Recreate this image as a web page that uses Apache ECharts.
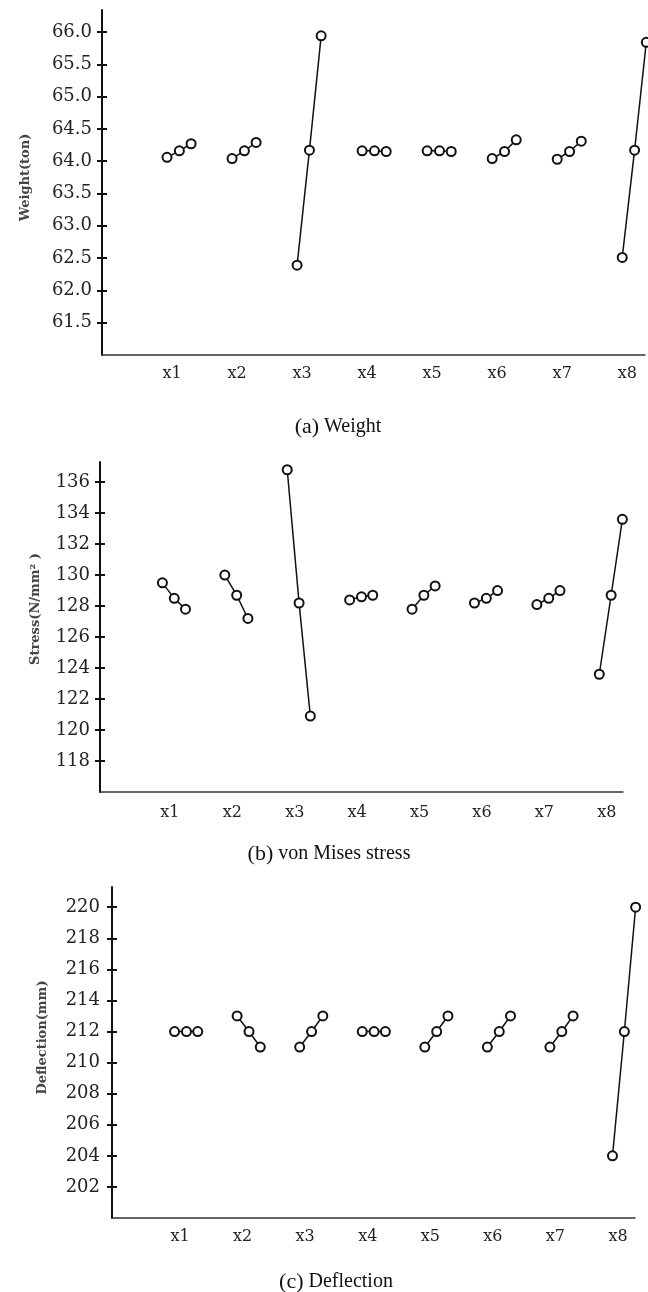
<!DOCTYPE html>
<html>
<head>
<meta charset="utf-8">
<style>
  html, body { margin: 0; padding: 0; background: #fff; }
  #main { width: 648px; height: 1292px; }
</style>
<script src="https://cdn.jsdelivr.net/npm/echarts@6/dist/echarts.min.js"></script>
</head>
<body>
<div id="main"></div>
<script>
// factors and the three levels of each factor
const factors = ['x1', 'x2', 'x3', 'x4', 'x5', 'x6', 'x7', 'x8']
const weight = [
  [64.06, 64.16, 64.27], [64.04, 64.16, 64.29], [62.39, 64.17, 65.94], [64.16, 64.16, 64.15],
  [64.16, 64.16, 64.15], [64.04, 64.15, 64.33], [64.03, 64.15, 64.31], [62.51, 64.17, 65.84]
]
const stress = [
  [129.5, 128.5, 127.8], [130.0, 128.7, 127.2], [136.8, 128.2, 120.9], [128.4, 128.6, 128.7],
  [127.8, 128.7, 129.3], [128.2, 128.5, 129.0], [128.1, 128.5, 129.0], [123.6, 128.7, 133.6]
]
const deflection = [
  [212, 212, 212], [213, 212, 211], [211, 212, 213], [212, 212, 212],
  [211, 212, 213], [211, 212, 213], [211, 212, 213], [204, 212, 220]
]
const weightTicks = [61.5, 62.0, 62.5, 63.0, 63.5, 64.0, 64.5, 65.0, 65.5, 66.0]
const stressTicks = [118, 120, 122, 124, 126, 128, 130, 132, 134, 136]
const deflectionTicks = [202, 204, 206, 208, 210, 212, 214, 216, 218, 220]
const levelShift = [0, 0.19, 0.37]

const panels = [
  { name: 'Weight(ton)', data: weight, ticks: weightTicks, digits: 1,
    grid: { left: 102, top: 10, width: 543, height: 345 },
    yMin: 61, yMax: 66.34, xMax: 8.35, labelPad: 10, labelMargin: 10, xMargin: 11,
    nameGap: 70, namePad: 10,
    caption: ['a', 'Weight'], capX: 333, capY: 424 },
  { name: 'Stress(N/mm² )', data: stress, ticks: stressTicks, digits: 0,
    grid: { left: 100, top: 462, width: 523, height: 330 },
    yMin: 116, yMax: 137.3, xMax: 8.38, labelPad: 15, labelMargin: 10, xMargin: 13,
    nameGap: 58, namePad: 36,
    caption: ['b', 'von Mises stress'], capX: 324, capY: 851 },
  { name: 'Deflection(mm)', data: deflection, ticks: deflectionTicks, digits: 0,
    grid: { left: 112, top: 887, width: 523, height: 331 },
    yMin: 200, yMax: 221.3, xMax: 8.36, labelPad: 11, labelMargin: 12, xMargin: 11,
    nameGap: 63, namePad: 30,
    caption: ['c', 'Deflection'], capX: 331, capY: 1279 }
]

const grids = []
const xAxes = []
const yAxes = []
const series = []
const titles = []

panels.forEach((p, k) => {
  grids.push(Object.assign({ containLabel: false }, p.grid))
  xAxes.push({
    type: 'value', gridIndex: k, min: 0, max: p.xMax,
    axisLine: { show: true, onZero: false, lineStyle: { color: '#333', width: 1.5 } },
    axisTick: { show: false },
    splitLine: { show: false },
    axisLabel: {
      customValues: factors.map((f, i) => i + 1),
      formatter: v => factors[Math.round(v) - 1] || '',
      fontFamily: 'DejaVu Serif', fontSize: 16, color: '#222',
      margin: p.xMargin, padding: [0, 0, 0, p.labelPad]
    }
  })
  yAxes.push({
    type: 'value', gridIndex: k, min: p.yMin, max: p.yMax,
    name: p.name, nameLocation: 'middle', nameGap: p.nameGap,
    nameTextStyle: { fontFamily: 'DejaVu Serif', fontSize: 13, fontWeight: 'bold', color: '#444',
      padding: [0, 0, 0, p.namePad] },
    axisLine: { show: true, onZero: false, lineStyle: { color: '#111', width: 2 } },
    axisTick: { show: true, length: 5, customValues: p.ticks, lineStyle: { color: '#111', width: 2 } },
    splitLine: { show: false },
    axisLabel: {
      customValues: p.ticks,
      formatter: v => v.toFixed(p.digits),
      fontFamily: 'DejaVu Serif', fontSize: 18, color: '#222', margin: p.labelMargin
    }
  })
  // inner half of the ticks that cross the y axis
  yAxes.push({
    type: 'value', gridIndex: k, min: p.yMin, max: p.yMax, position: 'left',
    axisLine: { show: false },
    axisTick: { show: true, inside: true, length: 5, customValues: p.ticks, lineStyle: { color: '#111', width: 2 } },
    axisLabel: { show: false },
    splitLine: { show: false }
  })
  p.data.forEach((levels, i) => {
    series.push({
      type: 'line', xAxisIndex: k, yAxisIndex: 2 * k, clip: false,
      symbol: 'emptyCircle', symbolSize: 9, silent: true,
      lineStyle: { color: '#111', width: 1.5 },
      itemStyle: { color: '#111', borderWidth: 1.3 },
      data: levels.map((v, j) => [i + 1 + levelShift[j], v])
    })
  })
  titles.push({
    text: '{p|(' + p.caption[0] + ')} {t|' + p.caption[1] + '}',
    left: p.capX, top: p.capY - 13, textAlign: 'center',
    textStyle: {
      fontWeight: 'normal',
      rich: {
        p: { fontFamily: 'Liberation Serif', fontSize: 22, fontWeight: 'normal', color: '#111' },
        t: { fontFamily: 'Liberation Serif', fontSize: 20, fontWeight: 'normal', color: '#111' }
      }
    }
  })
})

const chart = echarts.init(document.getElementById('main'))
chart.setOption({
  animation: false,
  backgroundColor: '#fff',
  title: titles,
  grid: grids,
  xAxis: xAxes,
  yAxis: yAxes,
  series: series
})
</script>
</body>
</html>
